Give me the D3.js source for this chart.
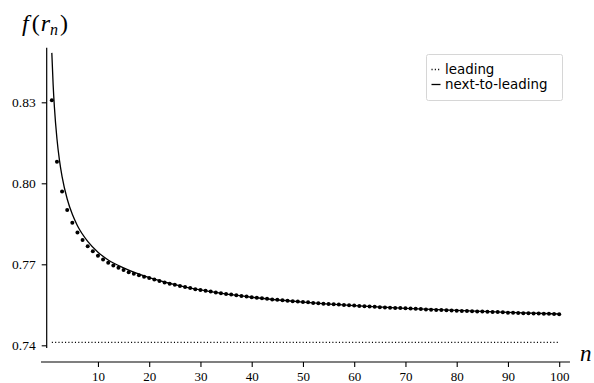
<!DOCTYPE html>
<html>
<head>
<meta charset="utf-8">
<script src="https://cdn.jsdelivr.net/npm/d3@7"></script>
<style>
  html, body { margin: 0; padding: 0; background: #fff; }
  svg { display: block; }
</style>
</head>
<body>
<svg id="chart" width="594" height="383"></svg>
<script>
// f(r_n) for n = 1 ... 100 (exact values, drawn as dots)
const fValues = [
  0.8308, 0.8080, 0.7970, 0.7901, 0.7854, 0.7818, 0.7790, 0.7767, 0.7748, 0.7732,
  0.7718, 0.7706, 0.7696, 0.7687, 0.7679, 0.7671, 0.7665, 0.7659, 0.7654, 0.7649,
  0.7644, 0.7638, 0.7633, 0.7628, 0.7624, 0.7620, 0.7616, 0.7612, 0.7608, 0.7605,
  0.7602, 0.7599, 0.7596, 0.7593, 0.7590, 0.7588, 0.7585, 0.7583, 0.7581, 0.7578,
  0.7576, 0.7574, 0.7572, 0.7570, 0.7569, 0.7567, 0.7565, 0.7563, 0.7562, 0.7560,
  0.7559, 0.7557, 0.7556, 0.7554, 0.7553, 0.7552, 0.7551, 0.7549, 0.7548, 0.7547,
  0.7546, 0.7545, 0.7544, 0.7543, 0.7541, 0.7540, 0.7539, 0.7538, 0.7538, 0.7537,
  0.7536, 0.7535, 0.7534, 0.7533, 0.7532, 0.7531, 0.7531, 0.7530, 0.7529, 0.7528,
  0.7527, 0.7527, 0.7526, 0.7525, 0.7525, 0.7524, 0.7523, 0.7523, 0.7522, 0.7521,
  0.7521, 0.7520, 0.7519, 0.7519, 0.7518, 0.7518, 0.7517, 0.7517, 0.7516, 0.7515
];

// next-to-leading approximation, sampled along n
const nloN      = [1, 1.25, 1.5, 2, 2.5, 3, 4, 5, 6, 8, 10, 12, 15, 20, 25, 30, 40, 50, 60, 70, 80, 90, 100];
const nloValues = [0.8483, 0.8368, 0.8283, 0.8165, 0.8084, 0.8025, 0.7942, 0.7885, 0.7843, 0.7785,
                   0.7745, 0.7716, 0.7687, 0.7651, 0.7625, 0.7605, 0.7578, 0.7560, 0.7547, 0.7537,
                   0.7529, 0.7522, 0.7516];

// leading-order constant
const leadingN     = [1, 100];
const leadingValue = 0.7411;

const xTicks = [10, 20, 30, 40, 50, 60, 70, 80, 90, 100];
const yTicks = [0.74, 0.77, 0.80, 0.83];

const legendLabels = ["leading", "next-to-leading"];

const serif = "'Liberation Serif', 'DejaVu Serif', serif";
const sans  = "'DejaVu Sans', sans-serif";

const svg = d3.select("#chart");

const x = d3.scaleLinear().domain([0, 100]).range([46.7, 559.2]);
const y = d3.scaleLinear().domain([0.74, 0.83]).range([345.3, 102.3]);

// spines
svg.append("line")
  .attr("x1", x(0)).attr("x2", x(0))
  .attr("y1", y(0.7390)).attr("y2", y(0.8502))
  .attr("stroke", "#000").attr("stroke-width", 1.2);

svg.append("line")
  .attr("x1", x(-1.12)).attr("x2", x(102.1))
  .attr("y1", 362).attr("y2", 362)
  .attr("stroke", "#000").attr("stroke-width", 1.2);

// y axis
const yAxis = svg.append("g")
  .attr("transform", `translate(${x(0)},0)`)
  .call(d3.axisLeft(y).tickValues(yTicks).tickFormat(d3.format(".2f")).tickSize(5).tickPadding(6).tickSizeOuter(0));
yAxis.attr("font-family", serif).attr("font-size", 13.5);
yAxis.select(".domain").remove();
yAxis.selectAll(".tick line").attr("stroke", "#000").attr("stroke-width", 1.1);
yAxis.selectAll(".tick text").attr("fill", "#000").attr("dy", "0.34em");

// x axis
const xAxis = svg.append("g")
  .attr("transform", "translate(0,362)")
  .call(d3.axisBottom(x).tickValues(xTicks).tickFormat(d3.format("d")).tickSize(5).tickPadding(5).tickSizeOuter(0));
xAxis.attr("font-family", serif).attr("font-size", 13);
xAxis.select(".domain").remove();
xAxis.selectAll(".tick line").attr("stroke", "#000").attr("stroke-width", 1.1);
xAxis.selectAll(".tick text").attr("fill", "#000").attr("dy", "0.66em");

// leading (dotted)
svg.append("line")
  .attr("x1", x(leadingN[0])).attr("x2", x(leadingN[1]))
  .attr("y1", y(leadingValue)).attr("y2", y(leadingValue))
  .attr("stroke", "#000").attr("stroke-width", 1.1)
  .attr("stroke-dasharray", "1.1,2.2");

// next-to-leading (solid)
const nloLine = d3.line()
  .x((d, i) => x(nloN[i]))
  .y(d => y(d))
  .curve(d3.curveMonotoneX);
svg.append("path")
  .datum(nloValues)
  .attr("d", nloLine)
  .attr("fill", "none")
  .attr("stroke", "#000")
  .attr("stroke-width", 1.3);

// exact values
svg.append("g").selectAll("circle")
  .data(fValues)
  .join("circle")
  .attr("cx", (d, i) => x(i + 1))
  .attr("cy", d => y(d))
  .attr("r", 2)
  .attr("fill", "#000");

// axis labels
const yLabel = svg.append("text")
  .attr("x", 22).attr("y", 30.5)
  .attr("font-family", serif)
  .attr("font-size", 24)
  .attr("fill", "#000");
yLabel.append("tspan").attr("font-style", "italic").text("f");
yLabel.append("tspan").attr("dx", 3).text("(");
yLabel.append("tspan").attr("font-style", "italic").attr("dx", 1).text("r");
yLabel.append("tspan").attr("font-style", "italic").attr("font-size", 16).attr("dy", 4).text("n");
yLabel.append("tspan").attr("dy", -4).attr("dx", 2).text(")");

svg.append("text")
  .attr("x", 580).attr("y", 361)
  .attr("font-family", serif)
  .attr("font-style", "italic")
  .attr("font-size", 23)
  .attr("fill", "#000")
  .text("n");

// legend
const legend = svg.append("g");
legend.append("rect")
  .attr("x", 426.5).attr("y", 54.5)
  .attr("width", 136).attr("height", 46)
  .attr("rx", 2)
  .attr("fill", "#fff")
  .attr("stroke", "#d6d6d6")
  .attr("stroke-width", 1);

const legendStyles = [
  { dash: "1.1,2.2", y: 69.5 },
  { dash: null, y: 84.5 }
];
legendLabels.forEach((label, i) => {
  const s = legendStyles[i];
  legend.append("line")
    .attr("x1", 431.5).attr("x2", 440.5)
    .attr("y1", s.y).attr("y2", s.y)
    .attr("stroke", "#000")
    .attr("stroke-width", 1.3)
    .attr("stroke-dasharray", s.dash);
  legend.append("text")
    .attr("x", 445).attr("y", s.y + 4.5)
    .attr("font-family", sans)
    .attr("font-size", 13.4)
    .attr("fill", "#000")
    .text(label);
});
</script>
</body>
</html>
